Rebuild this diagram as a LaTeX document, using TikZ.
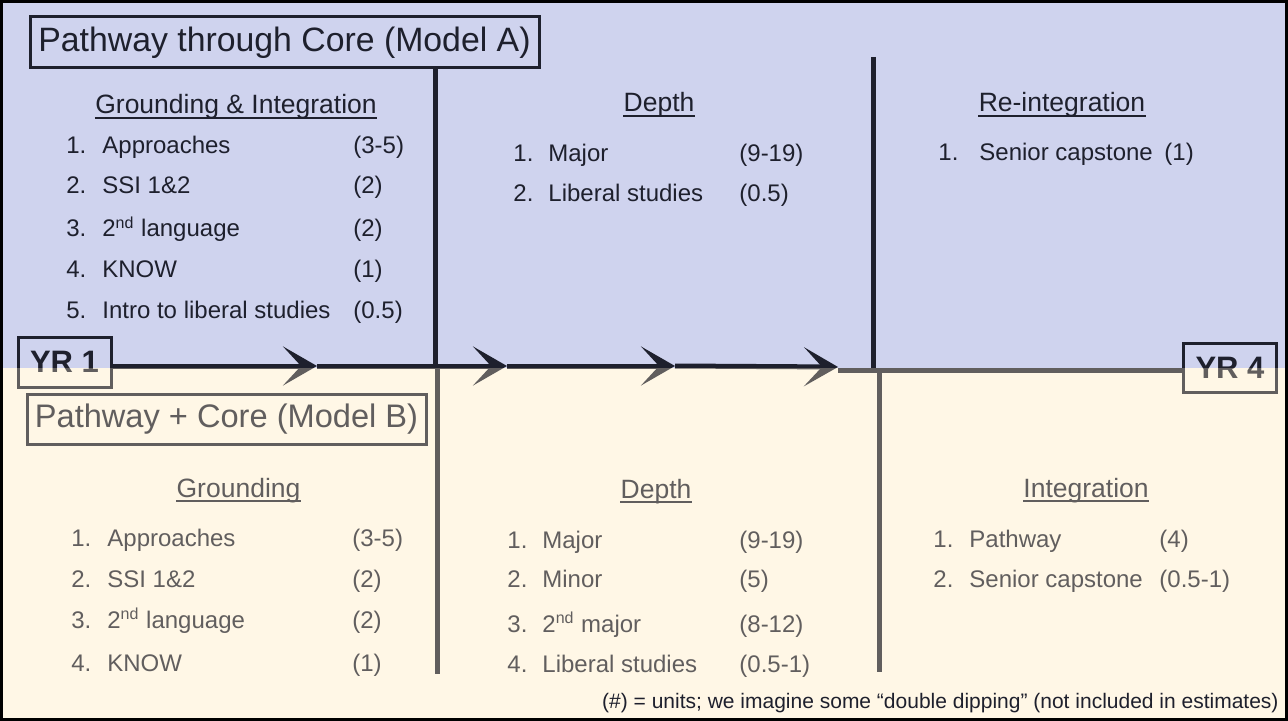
\documentclass[tikz,border=0pt]{standalone}
\usepackage{fontspec}
\setmainfont{Liberation Sans}
\usetikzlibrary{arrows.meta}
\definecolor{bluebg}{RGB}{207,211,238}
\definecolor{creambg}{RGB}{255,251,239}
\definecolor{creamov}{RGB}{255,240,210}
\definecolor{ink}{RGB}{30,32,45}
\begin{document}
\begin{tikzpicture}[x=0.5pt,y=-0.5pt,
 item/.style={anchor=base west, inner sep=0pt, text=ink, font=\fontsize{12}{14}\selectfont},
 head/.style={anchor=base, inner sep=0pt, text=ink, font=\fontsize{13.25}{16}\selectfont},
 titlebox/.style={draw=ink, line width=1.5pt, inner sep=0pt, text=ink, font=\fontsize{16.9}{20}\selectfont},
 yrbox/.style={draw=ink, line width=1.5pt, inner sep=0pt, text=ink, font=\bfseries\fontsize{15.5}{18}\selectfont, minimum width=46.5pt, minimum height=25pt},
 vline/.style={draw=ink, line width=2.5pt},
 tline/.style={draw=ink, line width=2.5pt},
 uline/.style={draw=ink, line width=1pt},
 tip/.style={-{Stealth[length=17pt,width=19.5pt,inset=9pt]}},
 foot/.style={anchor=base east, inner sep=0pt, text=ink, font=\fontsize{10.5}{12}\selectfont}
]
\useasboundingbox (0,0) rectangle (1288,721);
% backgrounds
\fill[bluebg] (0,0) rectangle (1288,368);
\fill[creambg] (0,368) rectangle (1288,721);

% ---- Model A ----
\node[titlebox, minimum width=254.5pt, minimum height=25.5pt] (tA) at (284.5,42.5) {Pathway through Core (Model A)};

\node[head] (hA1) at (236,114) {Grounding \& Integration};
\node[head] (hA2) at (659,112) {Depth};
\node[head] (hA3) at (1062,112) {Re-integration};
\foreach \h in {hA1,hA2,hA3}
  \draw[uline] ([yshift=-2.2pt]\h.base west) -- ([yshift=-2.2pt]\h.base east);

\node[item] (a1n) at (66,154) {1.};  \node[item] (a1t) at (102,154) {Approaches};  \node[item] (a1v) at (353,154) {(3-5)};
\node[item] (a2n) at (66,194) {2.};  \node[item] (a2t) at (102,194) {SSI 1\&2};  \node[item] (a2v) at (353,194) {(2)};
\node[item] (a3n) at (66,237) {3.};  \node[item] (a3t) at (102,237) {2\textsuperscript{nd} language};  \node[item] (a3v) at (353,237) {(2)};
\node[item] (a4n) at (66,278) {4.};  \node[item] (a4t) at (102,278) {KNOW};  \node[item] (a4v) at (353,278) {(1)};
\node[item] (a5n) at (66,319) {5.};  \node[item] (a5t) at (102,319) {Intro to liberal studies};  \node[item] (a5v) at (353,319) {(0.5)};

\node[item] (b1n) at (513,162) {1.};  \node[item] (b1t) at (548,162) {Major};  \node[item] (b1v) at (739,162) {(9-19)};
\node[item] (b2n) at (513,202) {2.};  \node[item] (b2t) at (548,202) {Liberal studies};  \node[item] (b2v) at (739,202) {(0.5)};

\node[item] (c1n) at (938,161) {1.};  \node[item] (c1t) at (979,161) {Senior capstone};  \node[item] (c1v) at (1164,161) {(1)};

% ---- Model B ----
\node[titlebox, minimum width=199.5pt, minimum height=25pt, font=\fontsize{16.3}{20}\selectfont] (tB) at (226.5,419) {Pathway + Core (Model B)};

\node[head] (hB1) at (238.5,497) {Grounding};
\node[head] (hB2) at (656,498) {Depth};
\node[head] (hB3) at (1086,497) {Integration};
\foreach \h in {hB1,hB2,hB3}
  \draw[uline] ([yshift=-2.2pt]\h.base west) -- ([yshift=-2.2pt]\h.base east);

\node[item] (d1n) at (71,546) {1.};  \node[item] (d1t) at (107,546) {Approaches};  \node[item] (d1v) at (352,546) {(3-5)};
\node[item] (d2n) at (71,587) {2.};  \node[item] (d2t) at (107,587) {SSI 1\&2};  \node[item] (d2v) at (352,587) {(2)};
\node[item] (d3n) at (71,628) {3.};  \node[item] (d3t) at (107,628) {2\textsuperscript{nd} language};  \node[item] (d3v) at (352,628) {(2)};
\node[item] (d4n) at (71,671) {4.};  \node[item] (d4t) at (107,671) {KNOW};  \node[item] (d4v) at (352,671) {(1)};

\node[item] (e1n) at (507,548) {1.};  \node[item] (e1t) at (542,548) {Major};  \node[item] (e1v) at (739,548) {(9-19)};
\node[item] (e2n) at (507,587) {2.};  \node[item] (e2t) at (542,587) {Minor};  \node[item] (e2v) at (739,587) {(5)};
\node[item] (e3n) at (507,632) {3.};  \node[item] (e3t) at (542,632) {2\textsuperscript{nd} major};  \node[item] (e3v) at (739,632) {(8-12)};
\node[item] (e4n) at (507,672) {4.};  \node[item] (e4t) at (542,672) {Liberal studies};  \node[item] (e4v) at (739,672) {(0.5-1)};

\node[item] (f1n) at (933,547) {1.};  \node[item] (f1t) at (969,547) {Pathway};  \node[item] (f1v) at (1159,547) {(4)};
\node[item] (f2n) at (933,587) {2.};  \node[item] (f2t) at (969,587) {Senior capstone};  \node[item] (f2v) at (1159,587) {(0.5-1)};

% ---- dividers ----
\coordinate (v1b) at (435,368);
\coordinate (v2t) at (873,57);
\coordinate (v2b) at (873,368);
\coordinate (v3t) at (437,368);
\coordinate (v3b) at (437,674);
\coordinate (v4t) at (879,368);
\coordinate (v4b) at (879,672);
\draw[vline] (tA.south -| v1b) -- (v1b);
\draw[vline] (v2t) -- (v2b);
\draw[vline] (v3t) -- (v3b);
\draw[vline] (v4t) -- (v4b);

% ---- timeline ----
\node[yrbox] (yr1) at (64.5,362) {YR 1};
\node[yrbox, minimum height=24.5pt] (yr4) at (1230,367.5) {YR 4};
\coordinate (t1) at (317,366);
\coordinate (t2) at (507,366);
\coordinate (t3) at (675,366);
\coordinate (t4) at (838,367);
\coordinate (t5) at (1183,370);
\draw[tline, tip] (yr1.east |- t1) -- (t1);
\draw[tline, tip] (t1) -- (t2);
\draw[tline, tip] (t2) -- (t3);
\draw[tline, tip] (t3) -- (t4);
\draw[tline] (t4 |- t5) -- (yr4.west |- t5);

% ---- overlay on lower panel ----
\fill[creamov, opacity=0.3] (0,368) rectangle (1288,721);

\node[foot] (fn) at (1279,708) {(\#) = units; we imagine some “double dipping” (not included in estimates)};

% outer frame
\draw[black, line width=1.5pt] (1.5,1.5) rectangle (1286.5,719.5);
\end{tikzpicture}
\end{document}
